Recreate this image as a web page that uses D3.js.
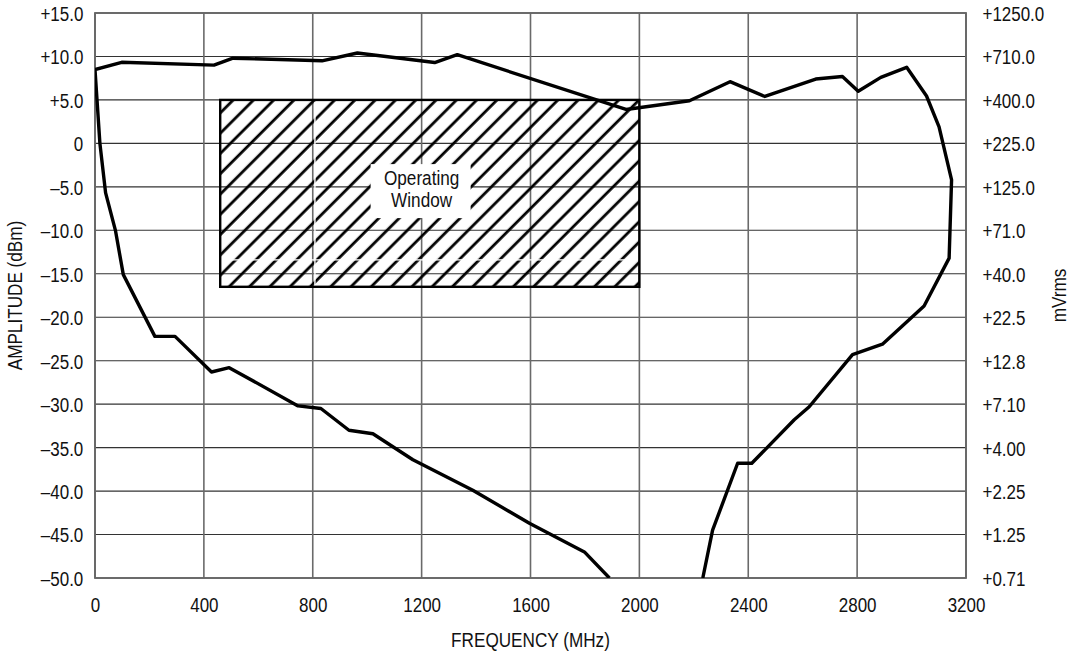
<!DOCTYPE html>
<meta charset="utf-8">
<style type="text/css">

body {
  margin: 0;
  background: #fff;
}

svg {
  font-family: "Liberation Sans", Arial, Helvetica, sans-serif;
}

.grid-x line {
  stroke: #6a6a6a;
  stroke-width: 1.6px;
}

.grid-y line {
  stroke: #333;
  stroke-width: 1.1px;
}

.axis text {
  font-size: 19.5px;
  fill: #111;
}

.response {
  fill: none;
  stroke: #000;
  stroke-width: 3.4px;
  stroke-linejoin: round;
}

</style>
<body>

<div id="chart"></div>

<script src="https://cdnjs.cloudflare.com/ajax/libs/d3/7.8.5/d3.min.js"></script>
<script>
// frequency axis
var freqTicks = [0, 400, 800, 1200, 1600, 2000, 2400, 2800, 3200];

// amplitude axis (dBm) and the matching mVrms labels on the right
var dbmTicks = [15, 10, 5, 0, -5, -10, -15, -20, -25, -30, -35, -40, -45, -50];
var dbmLabels = ['+15.0', '+10.0', '+5.0', '0', '–5.0', '–10.0', '–15.0', '–20.0',
                 '–25.0', '–30.0', '–35.0', '–40.0', '–45.0', '–50.0'];
var mvrmsLabels = ['+1250.0', '+710.0', '+400.0', '+225.0', '+125.0', '+71.0', '+40.0',
                   '+22.5', '+12.8', '+7.10', '+4.00', '+2.25', '+1.25', '+0.71'];

// input sensitivity curve, traced from -50 dBm on the low side round to -50 dBm on the high side
var curveFreq = [1890, 1798, 1596, 1388, 1168, 1021, 933, 830, 746, 493, 428, 294, 220, 104, 75, 39, 18, 0,
                 98, 437, 507, 834, 964, 1248, 1331, 1951, 2184, 2333, 2461, 2648, 2746, 2804, 2887, 2982,
                 3055, 3101, 3147, 3138, 3046, 2893, 2783, 2624, 2569, 2413, 2361, 2269, 2233];
var curveDbm = [-50, -47.0, -43.7, -39.9, -36.4, -33.4, -33.0, -30.5, -30.2, -25.8, -26.3, -22.2, -22.2, -15.1, -10, -5.7, 0, 8.5,
                9.33, 9.0, 9.8, 9.5, 10.4, 9.3, 10.2, 3.9, 4.9, 7.1, 5.4, 7.4, 7.7, 6.0, 7.6, 8.75,
                5.45, 1.9, -4.2, -13.2, -18.7, -23.1, -24.3, -30.3, -31.8, -36.8, -36.8, -44.5, -50];

// operating window
var windowFreq = [460, 2000];
var windowDbm = [-16.5, 5];
var windowText = ['Operating', 'Window'];
var windowTextAt = [1200, -4.8];

// thin white seams that cut the hatching in the original
var seamFreq = [808];
var seamDbm = [-13.4];

var width = 1071,
    height = 652;
var margin = {top: 13, right: 105, bottom: 74, left: 95};
var squeeze = 0.87;

var svg = d3.select('#chart').append('svg')
    .attr('width', width)
    .attr('height', height);

var x = d3.scaleLinear()
    .domain([0, 3200])
    .range([margin.left, width - margin.right]);

var y = d3.scaleLinear()
    .domain([-50, 15])
    .range([height - margin.bottom, margin.top]);

var defs = svg.append('defs');

var hatch = defs.append('pattern')
    .attr('id', 'hatch')
    .attr('patternUnits', 'userSpaceOnUse')
    .attr('width', 14.35)
    .attr('height', 14.35)
    .attr('patternTransform', 'rotate(45)');

hatch.append('line')
    .attr('x1', 6).attr('y1', -1)
    .attr('x2', 6).attr('y2', 15.5)
    .attr('stroke', '#000')
    .attr('stroke-width', 2.8);

defs.append('clipPath')
    .attr('id', 'plot-clip')
  .append('rect')
    .attr('x', x(0))
    .attr('y', y(15))
    .attr('width', x(3200) - x(0))
    .attr('height', y(-50) - y(15));

// grid
svg.append('g')
    .attr('class', 'grid-y')
  .selectAll('line')
    .data(dbmTicks)
  .enter()
    .append('line')
    .attr('x1', x(0))
    .attr('x2', x(3200))
    .attr('y1', function(d) { return y(d); })
    .attr('y2', function(d) { return y(d); });

svg.append('g')
    .attr('class', 'grid-x')
  .selectAll('line')
    .data(freqTicks)
  .enter()
    .append('line')
    .attr('x1', function(d) { return x(d); })
    .attr('x2', function(d) { return x(d); })
    .attr('y1', y(15))
    .attr('y2', y(-50));

svg.append('rect')
    .attr('x', x(0))
    .attr('y', y(15))
    .attr('width', x(3200) - x(0))
    .attr('height', y(-50) - y(15))
    .attr('fill', 'none')
    .attr('stroke', '#666')
    .attr('stroke-width', 1.8);

// operating window
var win = svg.append('g');

win.append('rect')
    .attr('x', x(windowFreq[0]))
    .attr('y', y(windowDbm[1]))
    .attr('width', x(windowFreq[1]) - x(windowFreq[0]))
    .attr('height', y(windowDbm[0]) - y(windowDbm[1]))
    .attr('fill', 'url(#hatch)');

win.selectAll('.seam-v')
    .data(seamFreq)
  .enter()
    .append('line')
    .attr('x1', function(d) { return x(d); })
    .attr('x2', function(d) { return x(d); })
    .attr('y1', y(windowDbm[1]) + 2)
    .attr('y2', y(windowDbm[0]) - 1)
    .attr('stroke', '#fff')
    .attr('stroke-width', 1.4);

win.selectAll('.seam-h')
    .data(seamDbm)
  .enter()
    .append('line')
    .attr('x1', x(windowFreq[0]) + 2)
    .attr('x2', x(windowFreq[1]) - 2)
    .attr('y1', function(d) { return y(d); })
    .attr('y2', function(d) { return y(d); })
    .attr('stroke', '#fff')
    .attr('stroke-width', 1.4);

win.append('rect')
    .attr('x', x(windowFreq[0]))
    .attr('y', y(windowDbm[1]))
    .attr('width', x(windowFreq[1]) - x(windowFreq[0]))
    .attr('height', y(windowDbm[0]) - y(windowDbm[1]))
    .attr('fill', 'none')
    .attr('stroke', '#000')
    .attr('stroke-width', 2.4);

var lx = x(windowTextAt[0]),
    ly = y(windowTextAt[1]);

win.append('rect')
    .attr('x', lx - 51)
    .attr('y', ly - 21)
    .attr('width', 100)
    .attr('height', 54)
    .attr('fill', '#fff');

win.selectAll('.window-label')
    .data(windowText)
  .enter()
    .append('text')
    .attr('class', 'window-label')
    .attr('transform', function(d, i) {
      return 'translate(' + lx + ',' + (ly + i * 22.3) + ') scale(0.88,1)';
    })
    .attr('text-anchor', 'middle')
    .style('font-size', '19.5px')
    .attr('fill', '#111')
    .text(function(d) { return d; });

// response curve
var curve = curveFreq.map(function(f, i) {
  return [f, curveDbm[i]];
});

svg.append('path')
    .datum(curve)
    .attr('class', 'response')
    .attr('clip-path', 'url(#plot-clip)')
    .attr('d', d3.line()
      .x(function(d) { return x(d[0]); })
      .y(function(d) { return y(d[1]); }));

// axes
var xAxis = svg.append('g')
    .attr('class', 'axis')
    .attr('transform', 'translate(0,' + y(-50) + ')')
    .call(d3.axisBottom(x).tickValues(freqTicks).tickSize(0).tickFormat(d3.format('d')));

xAxis.selectAll('text')
    .attr('y', 33.7)
    .attr('dy', 0)
    .attr('x', 0)
    .attr('transform', 'scale(' + squeeze + ',1)');

var yAxis = svg.append('g')
    .attr('class', 'axis')
    .attr('transform', 'translate(' + x(0) + ',0)')
    .call(d3.axisLeft(y).tickValues(dbmTicks).tickSize(0)
      .tickFormat(function(d, i) { return dbmLabels[i]; }));

yAxis.selectAll('text')
    .attr('x', -11.7 / squeeze)
    .attr('dy', '0.38em')
    .attr('transform', 'scale(' + squeeze + ',1)');

var rAxis = svg.append('g')
    .attr('class', 'axis')
    .attr('transform', 'translate(' + x(3200) + ',0)')
    .call(d3.axisRight(y).tickValues(dbmTicks).tickSize(0)
      .tickFormat(function(d, i) { return mvrmsLabels[i]; }));

rAxis.selectAll('text')
    .attr('x', 16.5 / squeeze)
    .attr('dy', '0.38em')
    .attr('transform', 'scale(' + squeeze + ',1)');

svg.selectAll('.axis .domain').remove();

// titles
var midY = (y(15) + y(-50)) / 2;

svg.append('text')
    .attr('transform', 'translate(' + ((x(0) + x(3200)) / 2) + ',647) scale(0.88,1)')
    .attr('text-anchor', 'middle')
    .style('font-size', '19.5px')
    .attr('fill', '#111')
    .text('FREQUENCY (MHz)');

svg.append('text')
    .attr('transform', 'translate(21.5,' + midY + ') rotate(-90) scale(0.88,1)')
    .attr('text-anchor', 'middle')
    .style('font-size', '19.5px')
    .attr('fill', '#111')
    .text('AMPLITUDE (dBm)');

svg.append('text')
    .attr('transform', 'translate(1066,' + midY + ') rotate(-90) scale(0.88,1)')
    .attr('text-anchor', 'middle')
    .style('font-size', '19.5px')
    .attr('fill', '#111')
    .text('mVrms');
</script>
